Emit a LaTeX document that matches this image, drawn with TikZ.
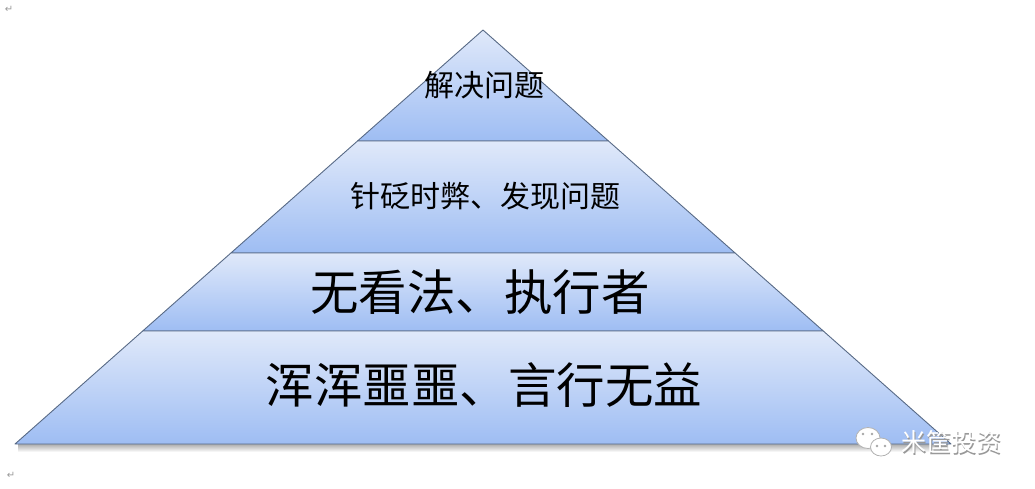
\documentclass[tikz,border=0pt]{standalone}
\usepackage{fontspec}
\newfontfamily\cjk{Noto Sans CJK SC}
\newfontfamily\symb{DejaVu Sans}
\usetikzlibrary{positioning}
\definecolor{tierTop}{RGB}{224,233,250}
\definecolor{tierBottom}{RGB}{158,189,243}
\definecolor{tierLine}{RGB}{88,106,134}
\tikzset{
  tier/.style={top color=tierTop, bottom color=tierBottom, draw=tierLine,
    line width=0.9pt, line join=round},
  smalltext/.style={font=\cjk\fontsize{30}{34}\selectfont},
  largetext/.style={font=\cjk\fontsize{48.5}{54}\selectfont},
  retmark/.style={font=\symb\fontsize{10}{11}\selectfont, text=gray!80, inner sep=0pt},
  bubble/.style={fill=white, draw=gray!60, line width=0.8pt}
}

\begin{document}
\begin{tikzpicture}[x=1pt,y=-1pt]
  \useasboundingbox (0,0) rectangle (1035,488);
  % shadow under the base
  \shade[top color=gray!65, bottom color=white] (18,444) rectangle (948,452);
  % tier corners
  \coordinate (apex) at (483,30);
  \coordinate (oneL) at (357.5,141);   \coordinate (oneR) at (608.5,141);
  \coordinate (twoL) at (230.9,253);   \coordinate (twoR) at (735.1,253);
  \coordinate (threeL) at (142.7,331); \coordinate (threeR) at (823.3,331);
  \coordinate (baseL) at (15,444);     \coordinate (baseR) at (951,444);
  % tiers
  \path[tier] (apex) -- (oneR) -- (oneL) -- cycle;
  \path[tier] (oneL) -- (oneR) -- (twoR) -- (twoL) -- cycle;
  \path[tier] (twoL) -- (twoR) -- (threeR) -- (threeL) -- cycle;
  \path[tier] (threeL) -- (threeR) -- (baseR) -- (baseL) -- cycle;
  % labels
  \node[smalltext] (solve) at (484,85) {解决问题};
  \node[smalltext] (expose) at (485,196) {针砭时弊、发现问题};
  \node[largetext] (follow) at (480,292) {无看法、执行者};
  \node[largetext] (drift) at (484,385) {浑浑噩噩、言行无益};
  % paragraph marks
  \node[retmark] (markTop) at (9,9) {↵};
  \node[retmark] (markBottom) at (11,475) {↵};
  % watermark
  \path[bubble] (868,438) ellipse [x radius=12, y radius=10.5];
  \path[bubble] (881,447) ellipse [x radius=10.5, y radius=9];
  \foreach \px/\py in {863/434, 872/434, 877/446, 885/446}
    \fill[gray!70] (\px,\py) circle (1.4);
  \node[font=\cjk\fontsize{25}{28}\selectfont, text=gray!80] (brandShade) at (952.5,443.5) {米筐投资};
  \node[font=\cjk\fontsize{25}{28}\selectfont, text=white] (brand) at (951,442) {米筐投资};
\end{tikzpicture}
\end{document}
